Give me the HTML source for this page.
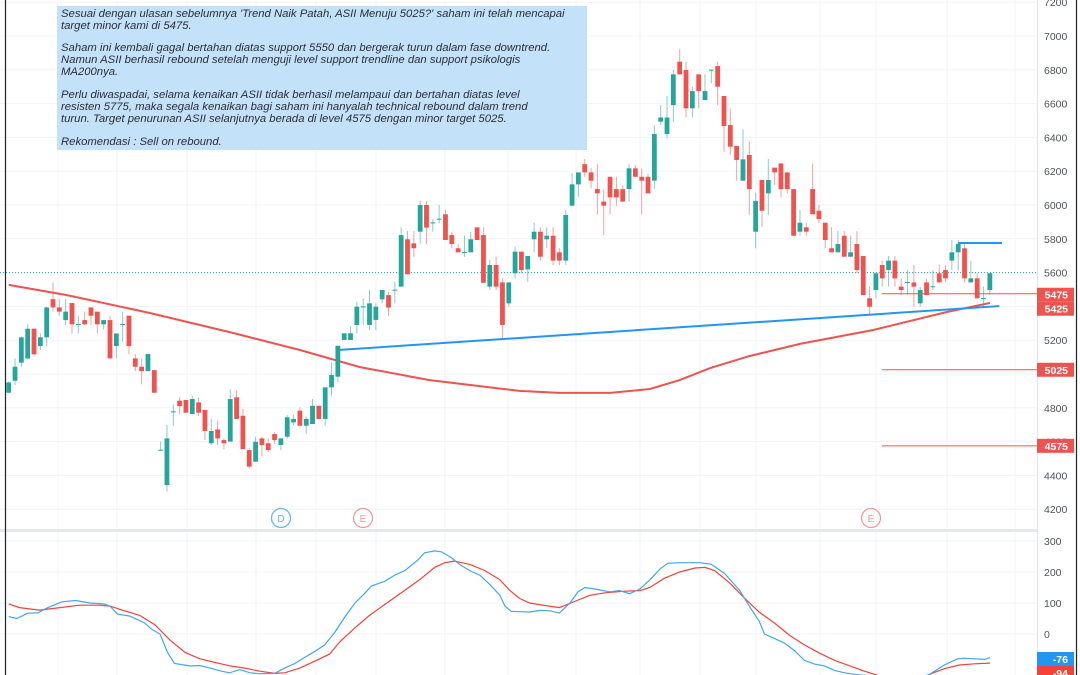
<!DOCTYPE html>
<html><head><meta charset="utf-8"><style>
html,body{margin:0;padding:0;background:#fff;}
svg{display:block;font-family:"Liberation Sans",sans-serif;}
</style></head><body>
<svg id="chart" width="1080" height="675" viewBox="0 0 1080 675" xmlns="http://www.w3.org/2000/svg">
<g id="grid"></g>
<g id="plot"></g>
<g id="ind"></g>
<g id="axis"></g>
<g>
<rect x="57" y="6" width="530" height="144" fill="#c4e1fa"/>
<text font-size="11.3" font-style="italic" fill="#2a2e39" font-family="Liberation Sans, sans-serif">
<tspan x="61" y="17">Sesuai dengan ulasan sebelumnya 'Trend Naik Patah, ASII Menuju 5025?' saham ini telah mencapai</tspan>
<tspan x="61" y="29">target minor kami di 5475.</tspan>
<tspan x="61" y="51">Saham ini kembali gagal bertahan diatas support 5550 dan bergerak turun dalam fase downtrend.</tspan>
<tspan x="61" y="63">Namun ASII berhasil rebound setelah menguji level support trendline dan support psikologis</tspan>
<tspan x="61" y="75">MA200nya.</tspan>
<tspan x="61" y="98">Perlu diwaspadai, selama kenaikan ASII tidak berhasil melampaui dan bertahan diatas level</tspan>
<tspan x="61" y="110">resisten 5775, maka segala kenaikan bagi saham ini hanyalah technical rebound dalam trend</tspan>
<tspan x="61" y="122">turun. Target penurunan ASII selanjutnya berada di level 4575 dengan minor target 5025.</tspan>
<tspan x="61" y="145">Rekomendasi : Sell on rebound.</tspan>
</text>
</g>
<line x1="5.5" y1="0" x2="5.5" y2="675" stroke="#222" stroke-width="1.2"/>
<line x1="1076.5" y1="0" x2="1076.5" y2="675" stroke="#222" stroke-width="1.2"/>
</svg>
<script>
const opens=[4889,4960,5067,5092,5268,5165,5217,5443,5394,5319,5420,5292,5319,5394,5369,5294,5319,5165,5292,5345,5092,5043,5017,5023,4548,4343,4775,4842,4846,4763,4832,4787,4590,4672,4609,4600,4862,4753,4550,4481,4619,4590,4645,4580,4629,4714,4783,4694,4704,4812,4734,4921,4984,5201,5201,5290,5396,5290,5320,5442,5467,5495,5517,5797,5773,5842,6000,5893,5915,5945,5822,5744,5718,5720,5868,5822,5517,5645,5542,5418,5596,5724,5619,5797,5842,5797,5818,5720,5671,5996,6122,6242,6193,6094,6020,6167,6094,6094,6094,6217,6167,6167,6144,6493,6420,6591,6848,6799,6572,6773,6621,6797,6822,6645,6473,6349,6144,6296,5842,6148,6069,6221,6246,6193,6094,5842,5868,6094,5966,5895,5744,5720,5818,5694,5769,5698,5448,5497,5645,5615,5671,5517,5540,5542,5418,5542,5515,5596,5615,5671,5720,5744,5542,5566,5446,5497];
const highs=[4955,5092,5221,5296,5268,5240,5398,5542,5443,5443,5420,5345,5369,5394,5369,5319,5345,5240,5369,5345,5118,5092,5118,5023,4599,4698,4820,4862,4846,4870,4862,4787,4734,4724,4619,4911,4905,4793,4560,4629,4629,4619,4655,4619,4757,4757,4803,4748,4852,4812,4921,5069,5167,5241,5280,5428,5448,5497,5418,5497,5487,5546,5868,5846,5846,6024,6024,5915,6000,5970,5842,5769,5818,5842,5868,5868,5675,5694,5566,5542,5754,5724,5698,5895,5868,5868,5868,5744,5970,6191,6193,6272,6217,6242,6094,6167,6167,6118,6242,6237,6217,6187,6473,6591,6645,6799,6921,6848,6700,6773,6773,6801,6848,6645,6572,6349,6448,6375,6073,6148,6272,6221,6246,6193,6094,5970,5895,6246,6000,5895,5868,5846,5846,5818,5846,5698,5517,5596,5671,5698,5698,5566,5615,5645,5517,5566,5615,5645,5645,5793,5793,5769,5671,5596,5517,5596];
const lows=[4885,4935,5043,5087,5116,5142,5165,5369,5345,5290,5240,5240,5290,5290,5240,5264,5092,5092,5191,5116,5017,4939,5017,4889,4546,4304,4694,4763,4771,4763,4751,4609,4580,4580,4556,4600,4734,4556,4442,4481,4515,4540,4586,4550,4619,4698,4694,4645,4704,4734,4694,4872,4950,5201,5201,5241,5290,5260,5260,5418,5343,5418,5517,5590,5694,5769,5769,5842,5891,5793,5744,5720,5694,5720,5793,5540,5497,5497,5201,5398,5566,5596,5546,5720,5671,5744,5645,5645,5645,5996,6049,6167,6098,5945,5822,5945,5996,6020,6020,6167,5945,6069,6094,6473,6394,6493,6773,6518,6518,6572,6621,6720,6591,6315,6296,6144,6144,5941,5744,5868,5941,6118,6045,6069,5818,5818,5818,5945,5895,5744,5720,5720,5694,5694,5596,5467,5348,5448,5517,5517,5517,5467,5467,5398,5398,5467,5497,5542,5542,5615,5615,5542,5542,5448,5398,5467];
const closes=[4950,5043,5217,5268,5116,5217,5394,5394,5369,5369,5294,5296,5294,5345,5294,5319,5092,5240,5296,5165,5043,5017,5118,4889,4552,4619,4779,4810,4771,4852,4771,4663,4663,4619,4590,4852,4734,4556,4452,4599,4580,4550,4609,4619,4744,4734,4694,4734,4812,4734,4921,4994,5167,5241,5241,5398,5400,5418,5398,5497,5393,5499,5822,5590,5744,6000,5866,5897,5919,5793,5769,5720,5722,5797,5793,5540,5645,5517,5290,5542,5724,5615,5698,5842,5694,5818,5671,5671,5941,6122,6193,6193,6144,6069,5996,6045,6045,6020,6217,6167,6144,6069,6420,6518,6518,6773,6773,6572,6674,6674,6674,6801,6700,6467,6345,6266,6270,6094,6024,5966,6148,6193,6094,6094,5818,5895,5842,5945,5917,5793,5720,5769,5694,5720,5615,5467,5398,5596,5566,5671,5566,5497,5544,5517,5497,5467,5519,5542,5566,5720,5769,5566,5566,5448,5450,5596];
const maBars=[0,9.2,22.3,35.4,46,55.5,66.5,80.7,87,95,101.3,106,110.8,117,125,136.5,148.2,155];
const maValues=[5527,5467,5361,5243,5142,5041,4964,4900,4888,4888,4911,4964,5035,5106,5178,5260,5367,5420];
const cciBars=[0,1.3,3,4.6,6.2,8.4,10.6,12.8,15,16,17.2,19.1,21.5,22.6,23.9,25.1,26.2,28.6,30.2,31.8,33.6,34.9,36.5,38.1,39.7,42,43.6,45.2,46.8,48.3,49.9,51.5,53.1,54.7,56.2,57.3,59.4,61,62.6,64.6,65.7,67.3,68.4,70,71.2,72.8,74.4,76,77.6,78.4,79.4,80.7,82.3,83.9,85.5,87,88.6,89.9,91,92.6,94.9,96.5,98.1,99.7,101.3,102.9,104.1,106,109.2,111,113.1,115.5,117,118.6,119.4,121,122.6,124.2,125.7,127.3,128.9,130.5,132.1,133.6,136,137.6,139.2,140.8,143.9,145.5,147.8,149.9,151,152.6,154.2,155];
const cciValues=[56,50,67,68,85,104,108,100,97,90,64,58,35,15,0,-60,-95,-103,-102,-110,-120,-125,-115,-125,-128,-127,-110,-95,-75,-57,-35,5,55,100,130,155,170,190,205,238,262,268,265,245,225,205,190,160,125,90,73,72,71,76,75,68,98,135,150,145,136,140,130,145,175,210,228,230,230,225,195,140,90,40,0,-15,-30,-55,-85,-97,-103,-118,-125,-130,-135,-138,-140,-140,-140,-130,-100,-80,-78,-80,-82,-76];
const sigBars=[0,1.7,4.9,8.1,11.2,14.4,16,18.3,20.7,23.1,25.5,27.9,30.2,32.6,35,37.3,39.7,42,43.6,46,48.3,50.7,52.3,54.7,57,59.4,61.8,64.9,67.3,68.9,70.4,72.8,75.2,77.6,79.2,80.7,82.3,84.7,87,89.4,91.8,94.2,97.3,99.7,101.3,103.6,106,108.4,110,111.5,113.9,116.3,118.6,121,123.4,125.7,128.1,130.5,132.9,135.2,137.6,140.8,143.1,145.5,147.8,150.2,152.6,155];
const sigValues=[97,85,77,85,93,93,90,75,60,30,-20,-60,-80,-92,-103,-110,-120,-127,-125,-110,-88,-65,-25,20,60,95,130,175,215,230,235,225,205,175,140,115,100,92,85,105,125,133,138,140,150,180,200,213,215,205,165,115,70,35,-5,-35,-62,-85,-103,-120,-135,-150,-150,-130,-112,-100,-96,-94];
const priceTicks=[7200,7000,6800,6600,6400,6200,6000,5800,5600,5400,5200,5000,4800,4600,4400,4200];
const hiddenTicks=[5400,5000];
const cciTicks=[300,200,100,0];
const levels=[5475,5025,4575];
const resistance=5775;
const trendStart=[52,5142], trendEnd=[156.5,5402];
const lastPrice=5600;
const maLast=5425;
const cciLast=-76, sigLast=-94;

const NS="http://www.w3.org/2000/svg";
const X=i=>8.7+i*6.33;
const Y=p=>36+(7000-p)*0.169;
const YC=v=>634-v*0.31;
function el(tag,attrs,parent){const e=document.createElementNS(NS,tag);for(const k in attrs)e.setAttribute(k,attrs[k]);parent.appendChild(e);return e;}
const grid=document.getElementById('grid'),plot=document.getElementById('plot'),ind=document.getElementById('ind'),axis=document.getElementById('axis');
[58,117,187,256,316,376,445,508,576,640,700,756,820,876,947,1015].forEach(x=>{
  const l=el('line',{x1:x,y1:0,x2:x,y2:675,stroke:'#f0f3fa','stroke-width':1},grid);
  
  
});
priceTicks.forEach(p=>{
  const l=el('line',{x1:0,y1:Y(p),x2:1037,y2:Y(p),stroke:'#f0f3fa','stroke-width':1},grid);
  
  
});
cciTicks.forEach(v=>{
  const l=el('line',{x1:0,y1:YC(v),x2:1037,y2:YC(v),stroke:'#f0f3fa','stroke-width':1},grid);
  
  
});
el('rect',{x:0,y:529,width:1037,height:3,fill:'#e6e8ee'},grid);
el('line',{x1:1037.5,y1:0,x2:1037.5,y2:675,stroke:'#e0e3eb','stroke-width':1},grid);
const lp=el('line',{x1:0,y1:Y(lastPrice),x2:1037,y2:Y(lastPrice),stroke:'#26a69a','stroke-width':1,'stroke-dasharray':'1 2'},plot);


let d='';maBars.forEach((b,i)=>{d+=(i?'L':'M')+X(b).toFixed(1)+' '+Y(maValues[i]).toFixed(1);});
const ma=el('path',{d:d,fill:'none',stroke:'#ef5350','stroke-width':2},plot);


const tl=el('line',{x1:X(trendStart[0]),y1:Y(trendStart[1]),x2:X(trendEnd[0]),y2:Y(trendEnd[1]),stroke:'#2196f3','stroke-width':2},plot);


for(let i=0;i<opens.length;i++){
  const up=closes[i]>=opens[i];const c=up?'#26a69a':'#ef5350';
  const x=X(i);
  const w=el('line',{x1:x,y1:Y(highs[i]),x2:x,y2:Y(lows[i]),stroke:c,'stroke-width':1,'stroke-opacity':0.55},plot);
  
  
  const t=Y(Math.max(opens[i],closes[i])),b=Y(Math.min(opens[i],closes[i]));
  const r=el('rect',{x:x-2.4,y:t,width:4.8,height:Math.max(1,b-t),fill:c},plot);
  
  
}
levels.forEach(p=>{
  const l=el('line',{x1:882,y1:Y(p),x2:1037,y2:Y(p),stroke:'#ef5350','stroke-width':1},plot);
  
  
});
const rl=el('line',{x1:X(150),y1:Y(resistance),x2:1002,y2:Y(resistance),stroke:'#2196f3','stroke-width':2},plot);


[[281,'D','#64b5f6'],[363,'E','#ef9a9a'],[871,'E','#ef9a9a']].forEach(m=>{
  const g=el('g',{},plot);
  
  
  el('circle',{cx:m[0],cy:518,r:9.5,fill:'#fff',stroke:m[2],'stroke-width':1.3},g);
  const t=el('text',{x:m[0],y:522,'font-size':10,'text-anchor':'middle',fill:m[2]},g);t.textContent=m[1];
});
function poly(bars,vals,col,name){let s='';bars.forEach((b,i)=>{s+=(i?'L':'M')+X(b).toFixed(1)+' '+YC(vals[i]).toFixed(1);});
  const p=el('path',{d:s,fill:'none',stroke:col,'stroke-width':1.2},ind);
  
  }
poly(sigBars,sigValues,'#f44336','cci-signal-line');
poly(cciBars,cciValues,'#42a5f5','cci-line');
priceTicks.forEach(p=>{
  if(hiddenTicks.includes(p))return;
  const t=el('text',{x:1044,y:Y(p)+4,'font-size':10.5,fill:'#50535e'},axis);
  
  
  t.textContent=p;
});
cciTicks.forEach(v=>{
  const t=el('text',{x:1044,y:YC(v)+4,'font-size':10.5,fill:'#50535e'},axis);
  
  
  t.textContent=v;
});
function badge(y,txt,col,name){
  const g=el('g',{},axis);
  
  
  el('rect',{x:1037,y:y-7,width:37,height:14,fill:col},g);
  const t=el('text',{x:1068,y:y+4,'font-size':10.5,'font-weight':'bold','text-anchor':'end',fill:'#fff'},g);t.textContent=txt;
}
badge(Y(levels[0])+1,String(levels[0]),'#ef5350','level-label-5475');
badge(Y(levels[0])+15,String(maLast),'#ef5350','ma200-label');
levels.slice(1).forEach(p=>badge(Y(p),String(p),'#ef5350','level-label'));
badge(659,String(cciLast),'#2196f3','cci-value-label');
badge(673,String(sigLast),'#f44336','signal-value-label');
</script>
</body></html>
